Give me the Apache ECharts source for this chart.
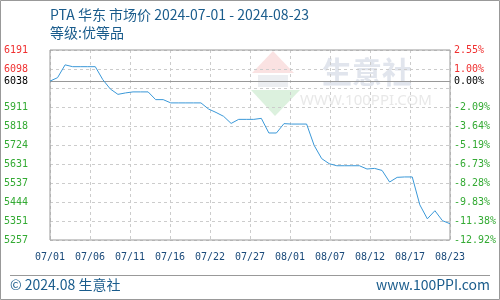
<!DOCTYPE html>
<html><head><meta charset="utf-8">
<script src="https://cdn.jsdelivr.net/npm/echarts@6/dist/echarts.min.js"></script>
<style>html,body{margin:0;padding:0;background:#fff}#c{width:500px;height:300px}</style>
</head><body><div id="c"></div>
<script>
const dates = ['07/01','07/02','07/03','07/04','07/05','07/06','07/07','07/08','07/09','07/10',
'07/11','07/12','07/13','07/14','07/15','07/16','07/17','07/18','07/19','07/20',
'07/21','07/22','07/23','07/24','07/25','07/26','07/27','07/28','07/29','07/30',
'07/31','08/01','08/02','08/03','08/04','08/05','08/06','08/07','08/08','08/09',
'08/10','08/11','08/12','08/13','08/14','08/15','08/16','08/17','08/18','08/19',
'08/20','08/21','08/22','08/23'];
const prices = [6038,6055,6118,6109,6109,6109,6109,6045,5999,5973,
5980,5985,5985,5985,5947,5947,5931,5931,5931,5931,
5931,5901,5884,5865,5830,5850,5850,5850,5855,5783,
5783,5829,5827,5827,5827,5722,5657,5632,5622,5622,
5622,5622,5606,5609,5599,5542,5565,5567,5567,5430,
5361,5401,5352,5337];
const xTickLabels = ['07/01','07/06','07/11','07/16','07/22','07/27','08/01','08/07','08/12','08/17','08/23'];
const leftTickLabels = ['5257','5351','5444','5537','5631','5724','5818','5911','','6098','6191'];
const rightTickLabels = ['-12.92%','-11.38%','-9.83%','-8.28%','-6.73%','-5.19%','-3.64%','-2.09%','','1.00%','2.55%'];
const basePrice = 6038;
const baseLabel = '6038';
const basePct = '0.00%';
const yMin = 5257, yMax = 6191;
const title = 'PTA 华东 市场价 2024-07-01 - 2024-08-23';
const subtitle = '等级:优等品';
const footerLeft = '© 2024.08 生意社';
const footerRight = 'www.100PPI.com';

const yScale = v => Math.round((v - yMin) * 10);
const ySpan = yScale(yMax);
const yStep = ySpan / 10;
const xSpan = (dates.length - 1) * 10;
const xStep = xSpan / 10;
const mono = '"DejaVu Sans Mono", monospace';
const red = '#f03030', green = '#33aa33';
const colorFor = (v) => { const i = Math.round(v / yStep); return i >= 9 ? red : green; };

const chart = echarts.init(document.getElementById('c'));
chart.setOption({
  animation: false,
  grid: { left: 50, right: 50, top: 50, height: 190, show: true, borderColor: '#999', borderWidth: 1, backgroundColor: 'transparent', z: 1 },
  xAxis: {
    type: 'value', min: 0, max: xSpan, interval: xStep,
    axisLine: { show: false }, axisTick: { show: false },
    splitLine: { show: true, lineStyle: { color: '#ccc', type: [3, 3] } },
    axisLabel: { margin: 12, fontFamily: mono, fontSize: 10, color: '#1a4a7a',
      formatter: v => xTickLabels[Math.round(v / xStep)] || '' }
  },
  yAxis: [{
    type: 'value', min: 0, max: ySpan, interval: yStep,
    axisLine: { show: false }, axisTick: { show: false },
    splitLine: { show: true, lineStyle: { color: '#ccc', type: [3, 3] } },
    axisLabel: { margin: 22, fontFamily: mono, fontSize: 10, color: colorFor,
      formatter: v => leftTickLabels[Math.round(v / yStep)] }
  }, {
    type: 'value', min: 0, max: ySpan, interval: yStep, position: 'right',
    axisLine: { show: false }, axisTick: { show: false }, splitLine: { show: false },
    axisLabel: { margin: 4, fontFamily: mono, fontSize: 10, color: colorFor,
      formatter: v => rightTickLabels[Math.round(v / yStep)] }
  }],
  series: [{
    type: 'line', z: 5, symbol: 'none', smooth: false,
    lineStyle: { color: '#3a98d8', width: 1 },
    data: prices.map((p, i) => [i * 10, yScale(p)]),
    markLine: {
      silent: true, symbol: 'none',
      lineStyle: { color: '#999', type: 'solid', width: 1 },
      data: [
        { yAxis: yScale(basePrice), label: { position: 'start', distance: 22, formatter: baseLabel, color: '#000', fontFamily: mono, fontSize: 10, fontWeight: 'normal', textBorderWidth: 0 } },
        { yAxis: yScale(basePrice), label: { position: 'end', distance: 4, formatter: basePct, color: '#000', fontFamily: mono, fontSize: 10, fontWeight: 'normal', textBorderWidth: 0 } }
      ]
    }
  }],
  graphic: [
    { type: 'rect', silent: true, z: -10, shape: { x: 0.5, y: 0.5, width: 499, height: 299 }, style: { fill: 'none', stroke: '#999', lineWidth: 1 } },
    { type: 'polygon', silent: true, z: 0, shape: { points: [[252, 73], [294, 73], [273, 51]] }, style: { fill: 'rgba(245,190,190,0.45)' } },
    { type: 'rect', silent: true, z: 0, shape: { x: 258, y: 75, width: 30, height: 12 }, style: { fill: 'rgba(200,205,215,0.35)' } },
    { type: 'polygon', silent: true, z: 0, shape: { points: [[251, 90], [300, 90], [275, 116]] }, style: { fill: 'rgba(185,228,190,0.5)' } },
    { type: 'text', silent: true, z: 0, x: 322, y: 72, style: { text: '生意社', font: 'bold 30px "Noto Sans CJK SC"', fill: 'rgba(200,208,222,0.55)', verticalAlign: 'middle', textVerticalAlign: 'middle' } },
    { type: 'text', silent: true, z: 0, x: 300, y: 101, style: { text: 'WWW.100PPI.COM', font: '15px "Noto Sans"', fill: 'rgba(210,210,210,0.5)', verticalAlign: 'middle', textVerticalAlign: 'middle' } },
    { type: 'text', silent: true, x: 50, y: 15, style: { text: title, font: '14px "Noto Sans CJK SC"', fill: '#1a5c8c', verticalAlign: 'middle', textVerticalAlign: 'middle' } },
    { type: 'text', silent: true, x: 50, y: 33, style: { text: subtitle, font: '14px "Noto Sans CJK SC"', fill: '#1a5c8c', verticalAlign: 'middle', textVerticalAlign: 'middle' } },
    { type: 'line', silent: true, shape: { x1: 10, y1: 275.5, x2: 490, y2: 275.5 }, style: { stroke: '#999', lineWidth: 1 } },
    { type: 'text', silent: true, x: 10, y: 285, style: { text: footerLeft, font: '14px "Noto Sans CJK SC"', fill: '#1a5c8c', verticalAlign: 'middle', textVerticalAlign: 'middle' } },
    { type: 'text', silent: true, x: 490, y: 285, style: { text: footerRight, font: '14px "Noto Sans CJK SC"', fill: '#1a5c8c', align: 'right', textAlign: 'right', verticalAlign: 'middle', textVerticalAlign: 'middle' } }
  ]
});
</script></body></html>
